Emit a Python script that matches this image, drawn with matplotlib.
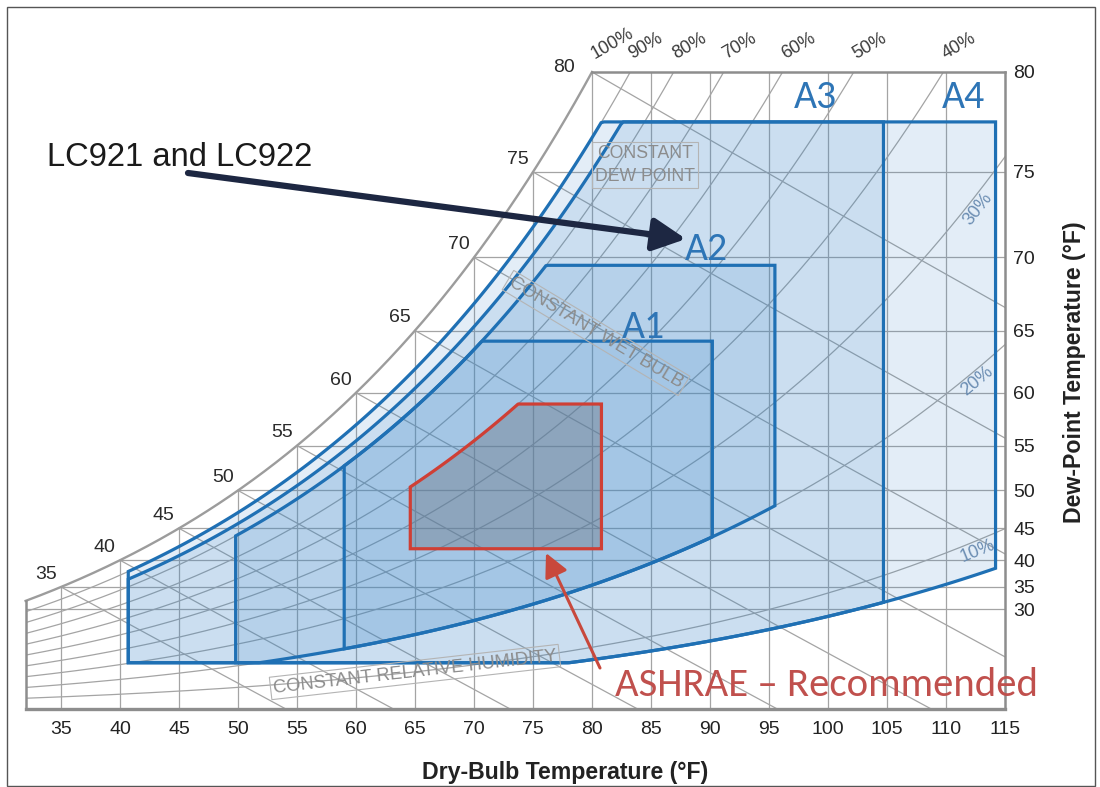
import numpy as np
import matplotlib
matplotlib.use("Agg")
import matplotlib.pyplot as plt
from matplotlib import font_manager
from matplotlib.patches import Polygon, FancyArrowPatch, Rectangle

# ------------------------------------------------------------------ data
dry_bulb_ticks = [35, 40, 45, 50, 55, 60, 65, 70, 75, 80, 85, 90, 95, 100, 105, 110, 115]
dew_point_ticks = [30, 35, 40, 45, 50, 55, 60, 65, 70, 75, 80]
db_grid = [35, 40, 45, 50, 55, 60, 65, 70, 75, 80, 85, 90, 95, 100, 105, 110]
dp_grid = [30, 35, 40, 45, 50, 55, 60, 65, 70, 75]
wet_bulb_lines = [35, 40, 45, 50, 55, 60, 65, 70, 75, 80]
sat_labels = [35, 40, 45, 50, 55, 60, 65, 70, 75, 80]
rh_levels = [10, 20, 30, 40, 50, 60, 70, 80, 90]
rh_top_labels = [100, 90, 80, 70, 60, 50, 40]
rh_side_labels = [30, 20, 10]

env_names = ["A4", "A3", "A2", "A1"]
env_tmin = [40.7, 40.7, 49.8, 59.0]
env_tmax = [114.2, 104.7, 95.5, 90.2]
env_rh_low = [8, 8, 20, 20]
env_rh_high = [90, 85, 80, 80]
env_dp_low = [12.0, 12.0, 12.0, 12.0]
env_dp_high = [77.6, 77.6, 69.5, 64.2]

rec_tmin, rec_tmax = 64.6, 80.8
rec_rh_high = 60
rec_dp_low, rec_dp_high = 41.9, 59.0

# ------------------------------------------------------------------ fonts
installed = {f.name for f in font_manager.fontManager.ttflist}
def pick(*names):
    for n in names:
        if n in installed:
            return n
    return "DejaVu Sans"
SANS = pick("Liberation Sans", "Arimo", "DejaVu Sans")
NARROW = pick("Liberation Sans Narrow", "Liberation Sans")
CAL = pick("Carlito", "Lato", "Open Sans", "Liberation Sans")
plt.rcParams["font.family"] = [SANS, "DejaVu Sans"]

# ------------------------------------------------------------------ psychrometrics (sea level)
P_ATM = 14.696
def p_ws(t_f):
    T = np.asarray(t_f, dtype=float) + 459.67
    return np.exp(-1.0440397e4 / T - 1.1294650e1 - 2.7022355e-2 * T
                  + 1.2890360e-5 * T ** 2 - 2.4780681e-9 * T ** 3 + 6.5459673 * np.log(T))
def w_from_pv(pv):
    return 0.621945 * pv / (P_ATM - pv)
def w_sat(t):
    return w_from_pv(p_ws(t))
def w_rh(t, rh):
    return w_from_pv(rh / 100.0 * p_ws(t))
def w_wb(t, twb):
    ws = w_sat(twb)
    return ((1093 - 0.556 * twb) * ws - 0.240 * (t - twb)) / (1093 + 0.444 * t - twb)

# ------------------------------------------------------------------ figure
FW, FH = 1100, 787
fig = plt.figure(figsize=(11, 7.87), dpi=100)
def fx(px): return px / FW
def fy(py): return 1 - py / FH

T_LEFT, T_RIGHT = 32, 115
T_TOP = 80
w_top = float(w_sat(T_TOP))
pxl, pxr, pxb, pxt = 25.6, 1005, 709, 72
ax = fig.add_axes([fx(pxl), fy(pxb), (pxr - pxl) / FW, (pxb - pxt) / FH])
ax.set_xlim(T_LEFT, T_RIGHT)
ax.set_ylim(0, w_top)
for s in ax.spines.values():
    s.set_visible(False)

GRID = "#a4a4a4"
GLW = 0.9
# dry-bulb verticals
for t in db_grid:
    ax.plot([t, t], [0, min(float(w_sat(t)), w_top)], color=GRID, lw=GLW, zorder=1)
# dew-point horizontals
for dp in dp_grid:
    wv = float(w_sat(dp))
    ax.plot([dp, T_RIGHT], [wv, wv], color=GRID, lw=GLW, zorder=1)
# wet-bulb lines
for twb in wet_bulb_lines:
    t0 = twb + (1093 - 0.556 * twb) * float(w_sat(twb)) / 0.240
    tt = np.linspace(twb, min(t0, T_RIGHT), 200)
    ax.plot(tt, np.maximum(w_wb(tt, twb), 0), color=GRID, lw=GLW, zorder=1)
# relative humidity curves
tt_all = np.linspace(T_LEFT, T_RIGHT, 800)
for rh in rh_levels:
    ax.plot(tt_all, w_rh(tt_all, rh), color=GRID, lw=GLW, zorder=1)

# frame + saturation
FR = "#8d8d8d"
ts = np.linspace(T_LEFT, T_TOP, 300)
ax.plot(ts, w_sat(ts), color="#9c9c9c", lw=1.7, zorder=1, clip_on=False)
ax.plot([T_LEFT, T_RIGHT], [0, 0], color=FR, lw=2.4, zorder=6, clip_on=False)
ax.plot([T_RIGHT, T_RIGHT], [0, w_top], color=FR, lw=1.8, zorder=6, clip_on=False)
ax.plot([T_TOP, T_RIGHT], [w_top, w_top], color=FR, lw=1.8, zorder=6, clip_on=False)
ax.plot([T_LEFT, T_LEFT], [0, float(w_sat(T_LEFT))], color=FR, lw=1.8, zorder=6, clip_on=False)

# ------------------------------------------------------------------ envelopes
def envelope(tmin, tmax, lo, hi, n=300):
    tt = np.linspace(tmin, tmax, n)
    top = hi(tt)
    bot = lo(tt)
    return np.column_stack([np.concatenate([tt, tt[::-1]]), np.concatenate([top, bot[::-1]])])

FILL = "#3a86c8"
EDGE = "#1f70b4"
for name, t0, t1, rl, rhh, dl, dh in zip(env_names, env_tmin, env_tmax, env_rh_low,
                                         env_rh_high, env_dp_low, env_dp_high):
    verts = envelope(t0, t1,
                     lambda t, rl=rl, dl=dl: np.maximum(w_rh(t, rl), w_sat(dl)),
                     lambda t, rhh=rhh, dh=dh: np.minimum(w_rh(t, rhh), w_sat(dh)))
    ax.add_patch(Polygon(verts, closed=True, fc=FILL, ec="none", alpha=0.14, zorder=2))
    ax.add_patch(Polygon(verts, closed=True, fill=False, ec=EDGE, lw=2.3, zorder=3,
                         joinstyle="miter"))

rec = envelope(rec_tmin, rec_tmax,
               lambda t: np.full_like(t, float(w_sat(rec_dp_low))),
               lambda t: np.minimum(w_rh(t, rec_rh_high), w_sat(rec_dp_high)))
ax.add_patch(Polygon(rec, closed=True, fc="#6e7887", ec="none", alpha=0.42, zorder=4))
ax.add_patch(Polygon(rec, closed=True, fill=False, ec="#cf3f35", lw=2.3, zorder=5,
                     joinstyle="miter"))

# ------------------------------------------------------------------ ticks
ax.set_xticks(dry_bulb_ticks)
ax.set_xticklabels([str(v) for v in dry_bulb_ticks], fontsize=14, color="#222222")
ax.yaxis.tick_right()
ax.set_yticks([float(w_sat(d)) for d in dew_point_ticks])
ax.set_yticklabels([str(v) for v in dew_point_ticks], fontsize=14, color="#222222")
ax.tick_params(axis="both", length=0)
ax.tick_params(axis="x", pad=9)
ax.tick_params(axis="y", pad=6)

# saturation labels
for t in sat_labels:
    if t == T_TOP:
        ax.annotate(str(t), (t, float(w_sat(t))), xytext=(-12, 3), textcoords="offset points",
                    ha="right", va="center", fontsize=14, color="#2a2a2a", zorder=7)
    else:
        ax.annotate(str(t), (t, float(w_sat(t))), xytext=(-3, 3), textcoords="offset points",
                    ha="right", va="bottom", fontsize=14, color="#2a2a2a", zorder=7)

# RH labels along the top
tf = np.linspace(T_LEFT, T_RIGHT, 5000)
for rh in rh_top_labels:
    if rh == 100:
        th = T_TOP
    else:
        th = float(np.interp(w_top, w_rh(tf, rh), tf))
    ax.annotate(f"{rh}%", (th, w_top), xytext=(3, 7), textcoords="offset points",
                rotation=30, rotation_mode="anchor", ha="left", va="bottom",
                fontsize=13, color="#3a3a3a", zorder=7, annotation_clip=False)

# RH labels near right edge
fig.canvas.draw()
for rh in rh_side_labels:
    t = 112.2
    p0 = ax.transData.transform((t - 0.5, float(w_rh(t - 0.5, rh))))
    p1 = ax.transData.transform((t + 0.5, float(w_rh(t + 0.5, rh))))
    ang = np.degrees(np.arctan2(p1[1] - p0[1], p1[0] - p0[0]))
    ax.annotate(f"{rh}%", (t, float(w_rh(t, rh))), xytext=(4, -6), textcoords="offset points",
                rotation=ang, rotation_mode="anchor", ha="center", va="center",
                fontsize=13, color="#6b8db2", zorder=7)

# ------------------------------------------------------------------ texts
renderer = fig.canvas.get_renderer()
def fit(txt, target_w):
    w = txt.get_window_extent(renderer).width
    txt.set_fontsize(txt.get_fontsize() * target_w / w)

box = dict(boxstyle="square,pad=0.15", fc="none", ec="#b4b4b4", lw=0.8)
t_dp = fig.text(fx(645), fy(165), "CONSTANT\nDEW POINT", ha="center", va="center",
                fontsize=12, color="#8c8c8c", linespacing=1.45, bbox=box, zorder=8)
fit(t_dp, 100)
t_wb = fig.text(fx(596), fy(333), "CONSTANT WET BULB", ha="center", va="center",
                fontsize=12, color="#8c8c8c", bbox=box, zorder=8)
fit(t_wb, 200)
t_wb.set_rotation(-31)
t_rh = fig.text(fx(415), fy(672), "CONSTANT RELATIVE HUMIDITY", ha="center", va="center",
                fontsize=12, color="#8c8c8c", bbox=box, zorder=8)
fit(t_rh, 286)
t_rh.set_rotation(6.5)

alab = {"A3": (815, 97), "A4": (963, 97), "A2": (706, 249), "A1": (643, 327)}
tA = []
for k, (px, py) in alab.items():
    tA.append(fig.text(fx(px), fy(py), k, ha="center", va="center", fontsize=22,
                       family=[CAL, "DejaVu Sans"], color="#2e75b6", zorder=8))
fit(tA[0], 43)
for t in tA[1:]:
    t.set_fontsize(tA[0].get_fontsize())

t_lc = fig.text(fx(47), fy(157), "LC921 and LC922", ha="left", va="center",
                fontsize=24, color="#1a1a1a", zorder=8)
fit(t_lc, 266)
t_as = fig.text(fx(615), fy(685), "ASHRAE \u2013 Recommended", ha="left", va="center",
                fontsize=28, family=[CAL, "DejaVu Sans"], color="#c0504d", zorder=8)
fit(t_as, 422)

t_xl = fig.text(fx(565), fy(772), "Dry-Bulb Temperature (\u00b0F)", ha="center", va="center",
                fontsize=14, fontweight="bold", color="#222222")
fit(t_xl, 288)
fig.text(fx(1075), fy(372), "Dew-Point Temperature (\u00b0F)", ha="center", va="center",
         rotation=90, fontsize=t_xl.get_fontsize(), fontweight="bold", color="#222222")

# arrows
fig.patches.append(FancyArrowPatch((fx(188), fy(173)), (fx(686), fy(239)),
                                   transform=fig.transFigure, figure=fig,
                                   arrowstyle="-|>,head_length=0.9,head_width=0.45",
                                   mutation_scale=22, lw=4.5, color="#1d2742",
                                   shrinkA=0, shrinkB=0, zorder=9))
fig.patches.append(FancyArrowPatch((fx(600), fy(668)), (fx(546), fy(553)),
                                   transform=fig.transFigure, figure=fig,
                                   arrowstyle="-|>,head_length=0.8,head_width=0.4",
                                   mutation_scale=18, lw=2.2, color="#c8483c",
                                   shrinkA=0, shrinkB=0, zorder=9))

# outer border
fig.patches.append(Rectangle((fx(7), fy(786)), (1095 - 7) / FW, (786 - 7) / FH,
                             transform=fig.transFigure, figure=fig, fill=False,
                             ec="#555555", lw=1.0))

fig.savefig("out.png", dpi=100)
